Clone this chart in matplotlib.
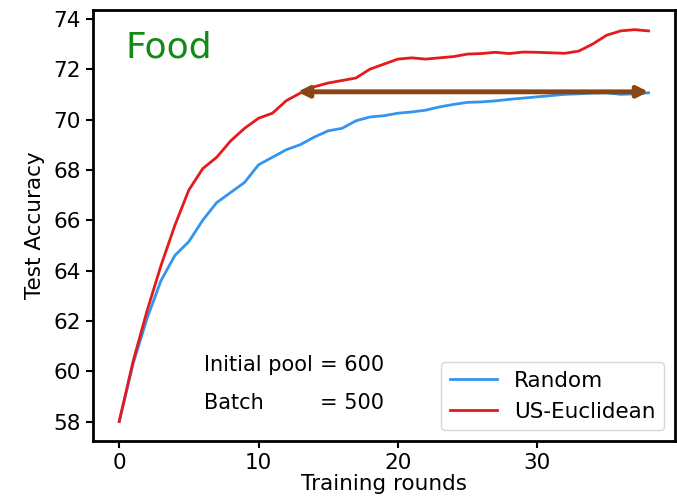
import numpy as np
from matplotlib import pyplot as plt

# datos
rounds = np.arange(0, 39)
random_acc = [58.0, 60.3, 62.1, 63.6, 64.6, 65.15, 66.0, 66.7, 67.1, 67.5,
              68.2, 68.5, 68.8, 69.0, 69.3, 69.55, 69.65, 69.95, 70.1, 70.15,
              70.25, 70.3, 70.37, 70.5, 70.6, 70.68, 70.7, 70.74, 70.8, 70.85,
              70.9, 70.95, 71.0, 71.02, 71.05, 71.06, 71.0, 71.02, 71.06]
us_euclid_acc = [58.0, 60.4, 62.4, 64.2, 65.8, 67.2, 68.05, 68.5, 69.15, 69.65,
                 70.05, 70.25, 70.75, 71.05, 71.3, 71.45, 71.55, 71.65, 72.0, 72.2,
                 72.4, 72.45, 72.4, 72.45, 72.5, 72.6, 72.62, 72.67, 72.62, 72.68,
                 72.67, 72.65, 72.63, 72.72, 73.0, 73.35, 73.52, 73.57, 73.52]
arrow_start = 12.8
arrow_end = 38
arrow_level = 71.1

plt.rcParams['font.family'] = 'DejaVu Sans'
fig = plt.figure(figsize=(6.77, 5.03), dpi=100)
ax = fig.add_axes([0.137, 0.123, 0.86, 0.857])

ax.plot(rounds, random_acc, color='#3395f0', lw=2, label='Random')
ax.plot(rounds, us_euclid_acc, color='#e41a1c', lw=2, label='US-Euclidean')

ax.annotate('', xy=(arrow_end, arrow_level), xytext=(arrow_start, arrow_level),
            arrowprops=dict(arrowstyle='<|-|>', color='#8B4513', lw=3.5,
                            mutation_scale=16, shrinkA=0, shrinkB=0))

ax.set_xticks([0, 10, 20, 30])
ax.set_yticks(np.arange(58, 75, 2))
ax.tick_params(labelsize=15.5, width=1.5, length=5)
ax.set_xlabel('Training rounds', fontsize=15.5, labelpad=1)
ax.set_ylabel('Test Accuracy', fontsize=15.5, labelpad=6)
for s in ax.spines.values():
    s.set_linewidth(2)

ax.text(0.057, 0.914, 'Food', transform=ax.transAxes, fontsize=26,
        color='#138a13', va='center', ha='left')

ax.text(6.1, 60.25, 'Initial pool', fontsize=15, va='center', ha='left')
ax.text(19.0, 60.25, '= 600', fontsize=15, va='center', ha='right')
ax.text(6.1, 58.75, 'Batch', fontsize=15, va='center', ha='left')
ax.text(19.0, 58.75, '= 500', fontsize=15, va='center', ha='right')

ax.legend(loc='lower right', fontsize=15.5, handlelength=2.2)

fig.savefig('out.png', dpi=100)
